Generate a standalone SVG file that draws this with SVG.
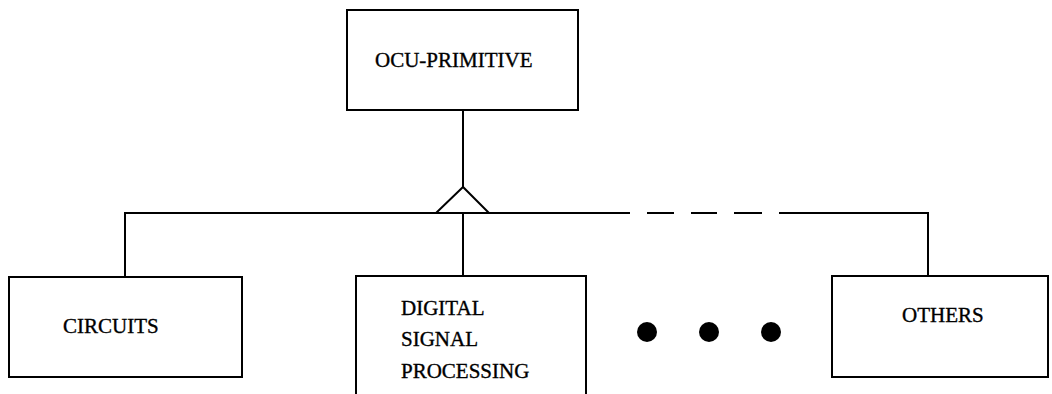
<svg xmlns="http://www.w3.org/2000/svg" width="1052" height="394" viewBox="0 0 1052 394">
<style>
.box{fill:#fff;stroke:#000;stroke-width:2}
.ln{fill:none;stroke:#000;stroke-width:2}
.t{font-family:"Liberation Serif","Times New Roman",serif;font-size:21px;fill:#000;stroke:#000;stroke-width:0.35}
</style>
<rect width="1052" height="394" fill="#fff"/>
<g id="connectors">
<line class="ln" x1="463" y1="110" x2="463" y2="187"/>
<polyline class="ln" points="125,277 125,213 630,213"/>
<line class="ln" x1="647" y1="213" x2="674" y2="213"/>
<line class="ln" x1="691" y1="213" x2="717" y2="213"/>
<line class="ln" x1="734" y1="213" x2="762" y2="213"/>
<polyline class="ln" points="779,213 928,213 928,276"/>
<line class="ln" x1="463" y1="213" x2="463" y2="276"/>
<polygon class="ln" points="463,187 436,213 489,213" style="fill:#fff"/>
</g>
<g id="ocu-primitive">
<rect class="box" x="347" y="10" width="231" height="100"/>
<text class="t" x="375" y="67">OCU-PRIMITIVE</text>
</g>
<g id="circuits">
<rect class="box" x="9" y="277" width="233" height="100"/>
<text class="t" x="63" y="333">CIRCUITS</text>
</g>
<g id="dsp">
<rect class="box" x="356" y="276" width="230" height="130"/>
<text class="t" x="401" y="315">DIGITAL</text>
<text class="t" x="401" y="346">SIGNAL</text>
<text class="t" x="401" y="378">PROCESSING</text>
</g>
<g id="ellipsis">
<circle cx="647" cy="332" r="10"/>
<circle cx="709" cy="332" r="10"/>
<circle cx="771" cy="332" r="10"/>
</g>
<g id="others">
<rect class="box" x="832" y="276" width="216" height="101"/>
<text class="t" x="902" y="322">OTHERS</text>
</g>
</svg>
